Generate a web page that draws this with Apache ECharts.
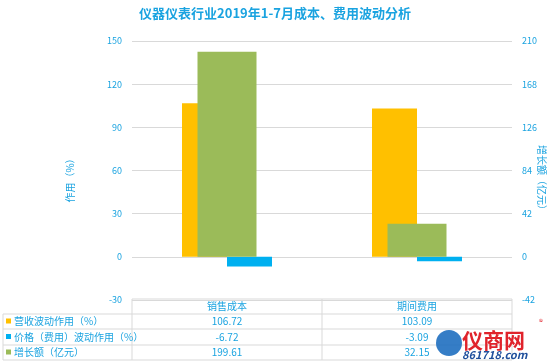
<!DOCTYPE html>
<html>
<head>
<meta charset="utf-8">
<script src="https://cdn.jsdelivr.net/npm/echarts@6/dist/echarts.min.js"></script>
<style>html,body{margin:0;padding:0;background:#fff}#c{width:550px;height:361px}</style>
</head>
<body>
<div id="c"></div>
<script>
const titleText = '仪器仪表行业2019年1-7月成本、费用波动分析';
const categories = ['销售成本', '期间费用'];
const seriesNames = ['营收波动作用（%）', '价格（费用）波动作用（%）', '增长额（亿元）'];
const leftAxisName = '作用（%）';
const rightAxisName = '增长额（亿元）';
const revenueEffect = [106.72, 103.09];
const priceEffect = [-6.72, -3.09];
const growthAmount = [199.61, 32.15];
const leftTicks = {min: -30, max: 150, interval: 30};
const rightTicks = {min: -42, max: 210, interval: 42};
const colors = ['#FFC000', '#00B0F0', '#9BBB59'];

const FONT = '"Noto Sans CJK SC", "Noto Sans", sans-serif';
const TXT = '#1aa3e0';
const LINE = '#d9d9d9';
const G = {left: 132, right: 38, top: 41, bottom: 61, outerBoundsMode: 'none', containLabel: false};
const W = 550, H = 361;
const plotL = G.left, plotR = W - G.right;
const rowY = [299, 314, 329, 345, 360];

const chart = echarts.init(document.getElementById('c'), null, {renderer: 'canvas'});

const graphics = [];
graphics.push({type: 'line', shape: {x1: plotL, y1: rowY[0], x2: plotR, y2: rowY[0]}, style: {stroke: LINE, lineWidth: 1}});
for (let i = 1; i < rowY.length; i++) {
  graphics.push({type: 'line', shape: {x1: 3, y1: rowY[i], x2: plotR, y2: rowY[i]}, style: {stroke: LINE, lineWidth: 1}});
}
graphics.push({type: 'line', shape: {x1: 3, y1: rowY[1], x2: 3, y2: rowY[4]}, style: {stroke: LINE, lineWidth: 1}});
const colW = (plotR - plotL) / categories.length;
for (let i = 0; i <= categories.length; i++) {
  graphics.push({type: 'line', shape: {x1: plotL + colW * i, y1: rowY[0], x2: plotL + colW * i, y2: rowY[4]}, style: {stroke: LINE, lineWidth: 1}});
}
categories.forEach((c, i) => {
  graphics.push({type: 'text', x: plotL + colW * (i + 0.5), y: (rowY[0] + rowY[1]) / 2,
    style: {text: c, fill: TXT, font: '10px ' + FONT, align: 'center', verticalAlign: 'middle'}});
});
const rows = [revenueEffect, priceEffect, growthAmount];
rows.forEach((arr, r) => {
  const cy = (rowY[r + 1] + rowY[r + 2]) / 2;
  graphics.push({type: 'rect', shape: {x: 6, y: cy - 3, width: 5, height: 5}, style: {fill: colors[r]}});
  graphics.push({type: 'text', x: 14, y: cy,
    style: {text: seriesNames[r], fill: TXT, font: '10px ' + FONT, align: 'left', verticalAlign: 'middle'}});
  arr.forEach((v, i) => {
    graphics.push({type: 'text', x: plotL + colW * (i + 0.5), y: cy,
      style: {text: v.toFixed(2), fill: TXT, font: '10px ' + FONT, align: 'center', verticalAlign: 'middle'}});
  });
});
// axis names
graphics.push({type: 'text', x: 70, y: 178, rotation: Math.PI / 2,
  style: {text: leftAxisName, fill: TXT, font: '10px ' + FONT, align: 'center', verticalAlign: 'middle'}});
graphics.push({type: 'text', x: 542, y: 180, rotation: -Math.PI / 2,
  style: {text: rightAxisName, fill: TXT, font: '10px ' + FONT, align: 'center', verticalAlign: 'middle'}});
// watermark
graphics.push({type: 'circle', shape: {cx: 449, cy: 343, r: 13}, style: {fill: '#1f6fc0', opacity: 0.9}, z: 100});
graphics.push({type: 'text', x: 462, y: 340, z: 100,
  style: {text: '仪商网', fill: '#e0232b', font: 'bold 21px ' + FONT, align: 'left', verticalAlign: 'middle'}});
graphics.push({type: 'text', x: 539, y: 322, z: 100,
  style: {text: '®', fill: '#e0232b', font: '8px ' + FONT, align: 'left', verticalAlign: 'middle'}});
graphics.push({type: 'text', x: 462, y: 355, z: 100,
  style: {text: '861718.com', fill: '#1f4f9c', font: 'italic bold 11px ' + FONT, align: 'left', verticalAlign: 'middle'}});

const option = {
  animation: false,
  backgroundColor: '#fff',
  title: {text: titleText, left: 'center', top: 2,
    textStyle: {color: TXT, fontSize: 13, fontWeight: 'bold', fontFamily: FONT}},
  grid: G,
  xAxis: [
    {type: 'category', data: categories, axisLine: {show: false}, axisTick: {show: false}, axisLabel: {show: false}, splitLine: {show: false}},
    {type: 'category', data: categories, show: false}
  ],
  yAxis: [
    {type: 'value', min: leftTicks.min, max: leftTicks.max, interval: leftTicks.interval,
      axisLine: {show: false}, axisTick: {show: false},
      axisLabel: {color: TXT, fontSize: 9, fontFamily: FONT, margin: 10},
      splitLine: {lineStyle: {color: LINE, width: 1}}},
    {type: 'value', min: rightTicks.min, max: rightTicks.max, interval: rightTicks.interval,
      axisLine: {show: false}, axisTick: {show: false},
      axisLabel: {color: TXT, fontSize: 9, fontFamily: FONT, margin: 10},
      splitLine: {show: false}}
  ],
  series: [
    {name: seriesNames[0], type: 'bar', data: revenueEffect, xAxisIndex: 0, yAxisIndex: 0,
      barWidth: 45, barGap: '0%', itemStyle: {color: colors[0]}},
    {name: seriesNames[1], type: 'bar', data: priceEffect, xAxisIndex: 0, yAxisIndex: 0,
      barWidth: 45, barGap: '0%', itemStyle: {color: colors[1]}},
    {name: seriesNames[2], type: 'bar', data: growthAmount, xAxisIndex: 1, yAxisIndex: 1,
      barWidth: 59, itemStyle: {color: colors[2]}}
  ],
  graphic: graphics
};
chart.setOption(option);
</script>
</body>
</html>
